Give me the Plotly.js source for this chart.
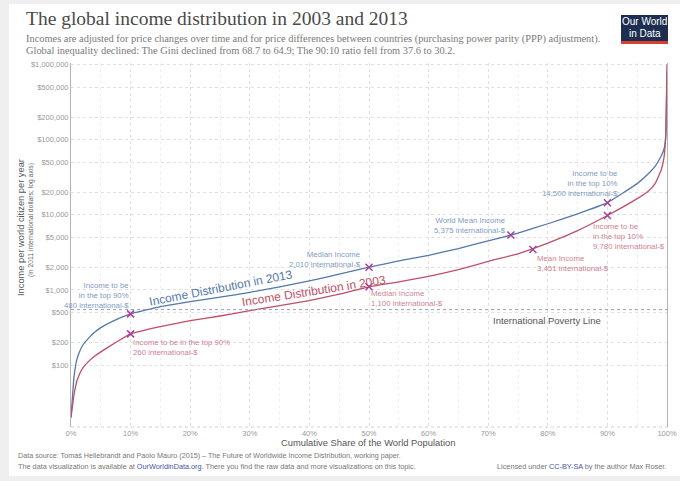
<!DOCTYPE html>
<html>
<head>
<meta charset="utf-8">
<script src="https://cdn.plot.ly/plotly-3.0.1.min.js"></script>
<style>html,body{margin:0;padding:0;background:#fff;}#chart{width:680px;height:481px;}</style>
</head>
<body>
<div id="chart"></div>
<script>
// ---- data ----
const share2013 = [0,0.5,1,1.5,2,3,4,5,7.5,10,15,20,25,30,35,40,45,50,55,60,65,70,75,80,85,90,95,97,98,99,99.5,99.8,100];
const income2013 = [20,69,120,155,185,230,275,315,400,480,600,700,800,930,1100,1320,1620,2010,2430,2890,3550,4500,5700,7600,10300,14500,26000,36000,44000,60000,75000,110000,800000];
const share2003 = [0,0.5,1,1.5,2,3,4,5,7.5,10,15,20,25,30,35,40,45,50,55,60,65,70,75,80,85,90,95,97,98,99,99.5,99.8,100];
const income2003 = [20,40,62,78,92,113,132,150,200,260,325,390,450,530,620,720,880,1100,1280,1520,1860,2400,3030,4190,6160,9780,16400,21100,26000,38800,58000,120000,1000000];
const markShare2013 = [10,50,73.8,90];
const markIncome2013 = [480,2010,5375,14500];
const markShare2003 = [10,50,77.5,90];
const markIncome2003 = [260,1100,3451,9780];
const povertyLine = 548;
const yTickVals = [100,200,500,1000,2000,5000,10000,20000,50000,100000,200000,500000,1000000];
const yTickText = ["$100","$200","$500","$1,000","$2,000","$5,000","$10,000","$20,000","$50,000","$100,000","$200,000","$500,000","$1,000,000"];
const xTickVals = [0,10,20,30,40,50,60,70,80,90,100];
const xTickText = ["0%","10%","20%","30%","40%","50%","60%","70%","80%","90%","100%"];
const labels2013 = ["Income to be<br>in the top 90%<br>480 international-$","Median Income<br>2,010 international-$","World Mean Income<br>5,375 international-$","Income to be<br>in the top 10%<br>14,500 international-$"];
const labels2003 = ["Income to be in the top 90%<br>260 international-$","Median Income<br>1,100 international-$","Mean Income<br>3,451 international-$","Income to be<br>in the top 10%<br>9,780 international-$"];

// ---- layout helpers ----
const W=680,H=481,L=71,R=667,T=63,B=427;
const px = x => (x-L)/(R-L);
const py = y => (B-y)/(B-T);
const BLUE='#5478a8', RED='#bf4f67', LBLUE='#7f9cc4', LRED='#cf8290', MARK='#a8409a';
const SANS='Liberation Sans, Arial, sans-serif', SERIF='Liberation Serif, DejaVu Serif, serif';

const traces = [
  {x:share2013,y:income2013,type:'scatter',mode:'lines',line:{color:BLUE,width:1.3,shape:'spline',smoothing:0.25},hoverinfo:'skip'},
  {x:share2003,y:income2003,type:'scatter',mode:'lines',line:{color:RED,width:1.3,shape:'spline',smoothing:0.25},hoverinfo:'skip'},
  {x:[0,100],y:[povertyLine,povertyLine],type:'scatter',mode:'lines',line:{color:'#9a9ec6',width:1,dash:'3px,3px'},hoverinfo:'skip'},
  {x:markShare2013,y:markIncome2013,type:'scatter',mode:'markers',marker:{symbol:'x-thin',size:7,line:{color:MARK,width:1.5}},hoverinfo:'skip'},
  {x:markShare2003,y:markIncome2003,type:'scatter',mode:'markers',marker:{symbol:'x-thin',size:7,line:{color:MARK,width:1.5}},hoverinfo:'skip'}
];

const ann = [];
function pa(text,x,y,opts){ann.push(Object.assign({text:text,xref:'paper',yref:'paper',x:px(x),y:py(y),showarrow:false,xanchor:'left',yanchor:'middle',font:{family:SANS,size:8,color:'#888'}},opts||{}));}
// title block
pa('The global income distribution in 2003 and 2013',24,19,{font:{family:SERIF,size:19.5,color:'#4a4a4a'}});
pa('Incomes are adjusted for price changes over time and for price differences between countries (purchasing power parity (PPP) adjustment).',24,39,{font:{family:SERIF,size:10.4,color:'#7a7a7a'}});
pa('Global inequality declined: The Gini declined from 68.7 to 64.9; The 90:10 ratio fell from 37.6 to 30.2.',24,51,{font:{family:SERIF,size:10.4,color:'#7a7a7a'}});
// logo text
pa('Our World',644.5,22,{xanchor:'center',font:{family:SANS,size:10,color:'#fff'}});
pa('in Data',644.5,33,{xanchor:'center',font:{family:SANS,size:10,color:'#fff'}});
// axis titles
pa('Income per world citizen per year',21,228,{xanchor:'center',textangle:-90,font:{family:SANS,size:9.3,color:'#555'}});
pa('(in 2011 international dollars; log axis)',31,220,{xanchor:'center',textangle:-90,font:{family:SANS,size:6.8,color:'#666'}});
pa('Cumulative Share of the World Population',368,442,{xanchor:'center',font:{family:SANS,size:9.4,color:'#555'}});
// footer
pa('Data source: Tomáš Hellebrandt and Paolo Mauro (2015) – The Future of Worldwide Income Distribution, working paper.',16,455,{font:{family:SANS,size:7.2,color:'#777'}});
pa('The data visualization is available at <span style="color:#4a54a3">OurWorldinData.org</span>. There you find the raw data and more visualizations on this topic.',16,466,{font:{family:SANS,size:7.3,color:'#777'}});
pa('Licensed under <span style="color:#4a54a3">CC-BY-SA</span> by the author Max Roser.',668,466,{xanchor:'right',font:{family:SANS,size:7.3,color:'#777'}});
// poverty line label
pa('International Poverty Line',491,320,{font:{family:SANS,size:9.5,color:'#555'}});
// curve labels
pa('Income Distribution in 2013',221,288,{xanchor:'center',textangle:-11,font:{family:SANS,size:12,color:BLUE}});
pa('Income Distribution in 2003',314,291,{xanchor:'center',textangle:-9,font:{family:SANS,size:12,color:RED}});

// data-anchored marker labels
const off2013=[{xa:'right',ya:'bottom',xs:0,ys:2},{xa:'right',ya:'bottom',xs:-6,ys:-4},{xa:'right',ya:'bottom',xs:-3,ys:-2},{xa:'right',ya:'bottom',xs:13,ys:3}];
const off2003=[{xa:'left',ya:'top',xs:0,ys:-2},{xa:'left',ya:'top',xs:0,ys:0},{xa:'left',ya:'top',xs:2,ys:-2},{xa:'left',ya:'top',xs:-16,ys:-4}];
markShare2013.forEach((s,i)=>ann.push({x:s,y:Math.log10(markIncome2013[i]),xref:'x',yref:'y',text:labels2013[i],showarrow:false,xanchor:off2013[i].xa,yanchor:off2013[i].ya,xshift:off2013[i].xs,yshift:off2013[i].ys,align:'right',font:{family:SANS,size:7.8,color:LBLUE}}));
markShare2003.forEach((s,i)=>ann.push({x:s,y:Math.log10(markIncome2003[i]),xref:'x',yref:'y',text:labels2003[i],showarrow:false,xanchor:off2003[i].xa,yanchor:off2003[i].ya,xshift:off2003[i].xs,yshift:off2003[i].ys,align:'left',font:{family:SANS,size:7.8,color:LRED}}));

const shapes = [
  {type:'rect',xref:'paper',yref:'paper',x0:px(9),x1:px(681),y0:py(4),y1:py(476),fillcolor:'#ffffff',line:{width:0},layer:'below'},
  {type:'rect',xref:'paper',yref:'paper',x0:px(621),x1:px(668),y0:py(15),y1:py(44),fillcolor:'#1d2f51',line:{width:0}},
  {type:'rect',xref:'paper',yref:'paper',x0:px(621),x1:px(668),y0:py(41),y1:py(44),fillcolor:'#d6402f',line:{width:0}},
  {type:'line',xref:'paper',yref:'paper',x0:0,x1:1,y0:0,y1:0,line:{color:'#d0d0d0',width:1,dash:'dot'}}
];

const layout = {
  width:W,height:H,
  margin:{l:L,r:W-R,t:T,b:H-B,pad:0},
  paper_bgcolor:'#efefef',plot_bgcolor:'rgba(0,0,0,0)',
  showlegend:false,
  xaxis:{range:[0,100],tickvals:xTickVals,ticktext:xTickText,showgrid:true,gridcolor:'#e0e0e0',griddash:'dot',gridwidth:1,
    minor:{dtick:5,tick0:0,showgrid:true,gridcolor:'#efefef',griddash:'dot',gridwidth:1},
    zeroline:false,showline:false,ticks:'',tickfont:{family:SANS,size:7.5,color:'#999'},ticklen:0},
  yaxis:{type:'log',range:[Math.log10(15),6.02],tickvals:yTickVals,ticktext:yTickText,showgrid:true,gridcolor:'#e0e0e0',griddash:'dot',gridwidth:1,
    zeroline:false,showline:true,linecolor:'#b5b5b5',linewidth:1,mirror:true,ticks:'',tickfont:{family:SANS,size:7.5,color:'#999'}},
  annotations:ann,shapes:shapes
};
Plotly.newPlot('chart',traces,layout,{staticPlot:true,displayModeBar:false});
</script>
</body>
</html>
